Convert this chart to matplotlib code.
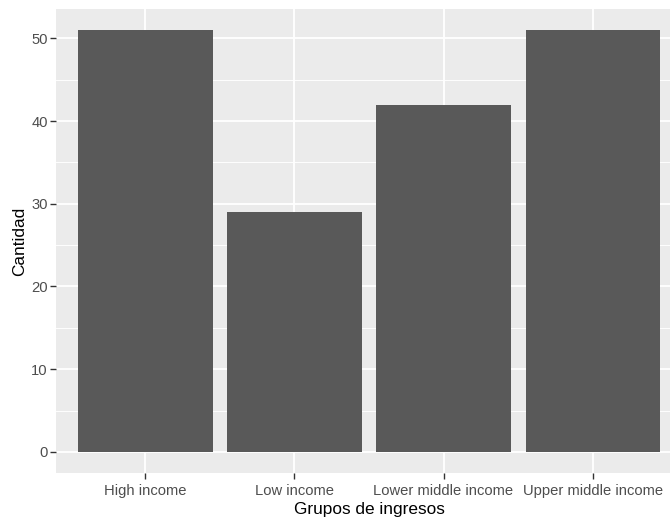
import numpy as np
from matplotlib import pyplot as plt
from matplotlib.ticker import MultipleLocator

# data
groups = ['High income', 'Low income', 'Lower middle income', 'Upper middle income']
counts = [51, 29, 42, 51]

W, H = 670, 519
dpi = 100
fig = plt.figure(figsize=(W / dpi, H / dpi), dpi=dpi)
plt.rcParams['font.family'] = ['Liberation Sans', 'DejaVu Sans']

# panel in pixels: left 56, top 9, bottom 473, right 682 (cut off by image edge)
left, top, bottom, right = 56, 9, 473, 682
ax = fig.add_axes([left / W, 1 - bottom / H, (right - left) / W, (bottom - top) / H])

x = np.arange(1, len(groups) + 1)
ax.bar(x, counts, width=0.9, color='#595959', zorder=3)

ax.set_xlim(0.4, 4.6)
ymax = max(counts)
ax.set_ylim(-0.05 * ymax, 1.05 * ymax)

ax.set_facecolor('#EBEBEB')
for s in ax.spines.values():
    s.set_visible(False)

ax.set_xticks(x)
ax.set_xticklabels(groups)
ax.yaxis.set_major_locator(MultipleLocator(10))
ax.yaxis.set_minor_locator(MultipleLocator(5))
ax.grid(which='major', color='white', lw=1.3, zorder=0)
ax.grid(which='minor', axis='y', color='white', lw=0.65, zorder=0)
ax.tick_params(which='major', length=4, width=1.0, color='#333333',
               labelcolor='#4D4D4D', labelsize=10.6, pad=2)
ax.tick_params(axis='x', pad=4)
ax.tick_params(which='minor', length=0)

ax.set_xlabel('Grupos de ingresos', fontsize=12.4, color='black', labelpad=3)
ax.set_ylabel('Cantidad', fontsize=12.4, color='black', labelpad=3)

fig.savefig('out.png', dpi=dpi, facecolor='white')
plt.close(fig)
